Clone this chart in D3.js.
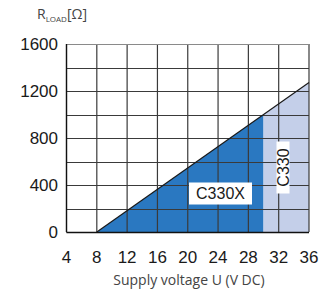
<!DOCTYPE html>
<html><head><meta charset="utf-8">
<script src="https://cdn.jsdelivr.net/npm/d3@7"></script>
<style>html,body{margin:0;padding:0;background:#fff;}svg{display:block;}</style>
</head><body>
<svg id="c" width="327" height="291"></svg>
<script>
const xTicks = [4, 8, 12, 16, 20, 24, 28, 32, 36];
const yTicks = [0, 400, 800, 1200, 1600];
const yGrid = [0, 200, 400, 600, 800, 1000, 1200, 1400, 1600];
const c330xU = [8, 30];
const c330xR = [0, 1000];
const c330U = [30, 36];
const c330R = [1000, 1273];
const lineU = [8, 36];
const lineR = [0, 1273];
const labels = ["C330X", "C330"];

const svg = d3.select("#c");
const x = d3.scaleLinear().domain([4, 36]).range([66.5, 309]);
const y = d3.scaleLinear().domain([0, 1600]).range([232, 44]);

const area = d3.area().x(d => x(d[0])).y0(y(0)).y1(d => y(d[1]));
svg.append("path").attr("d", area(c330xU.map((u, i) => [u, c330xR[i]]))).attr("fill", "#2a78c1");
svg.append("path").attr("d", area(c330U.map((u, i) => [u, c330R[i]]))).attr("fill", "#c4cfe9");

const g = svg.append("g");
xTicks.forEach(t => g.append("line").attr("x1", x(t)).attr("x2", x(t)).attr("y1", y(0)).attr("y2", y(1600))
  .attr("stroke", "#3a3a3a").attr("stroke-width", 1.2));
yGrid.forEach(t => g.append("line").attr("x1", x(4)).attr("x2", x(36)).attr("y1", Math.round(y(t)) + 0.5).attr("y2", Math.round(y(t)) + 0.5)
  .attr("stroke", t === 1600 ? "#8a8a8a" : "#3a3a3a").attr("stroke-width", 1.2));
// axis lines darker
g.append("line").attr("x1", x(4)).attr("x2", x(4)).attr("y1", y(0)).attr("y2", y(1600)).attr("stroke", "#111").attr("stroke-width", 1.3);
g.append("line").attr("x1", x(4)).attr("x2", x(36)).attr("y1", y(0) + 0.5).attr("y2", y(0) + 0.5).attr("stroke", "#111").attr("stroke-width", 1.3);

svg.append("path").attr("d", d3.line().x(d => x(d[0])).y(d => y(d[1]))(lineU.map((u, i) => [u, lineR[i]])))
  .attr("stroke", "#1a1a1a").attr("stroke-width", 1.2).attr("fill", "none");

// labels
function boxLabel(cx, cy, w, h, text, rot) {
  const gg = svg.append("g").attr("transform", `translate(${cx},${cy}) rotate(${rot})`);
  gg.append("rect").attr("x", -w / 2).attr("y", -h / 2).attr("width", w).attr("height", h).attr("fill", "#fff");
  gg.append("text").attr("x", 0).attr("y", 0).attr("dy", "0.36em").attr("text-anchor", "middle")
    .attr("font-family", "Liberation Sans, Arial, sans-serif").attr("font-size", 16).attr("fill", "#1a1a1a").text(text);
}
boxLabel(220.5, 193.5, 63, 22, labels[0], 0);
boxLabel(283, 167.5, 52, 13, labels[1], -90);

// tick labels
const tf = "Liberation Sans, Arial, sans-serif";
yTicks.forEach(t => svg.append("text").attr("x", 58).attr("y", y(t)).attr("dy", "0.36em").attr("text-anchor", "end")
  .attr("font-family", tf).attr("font-size", 17).attr("fill", "#1a1a1a").text(t));
xTicks.forEach(t => svg.append("text").attr("x", x(t)).attr("y", 263).attr("text-anchor", "middle")
  .attr("font-family", tf).attr("font-size", 17).attr("fill", "#1a1a1a").text(t));

svg.append("text").attr("x", 189).attr("y", 285).attr("text-anchor", "middle")
  .attr("font-family", "Open Sans, sans-serif").attr("font-size", 14).attr("fill", "#444").text("Supply voltage U (V DC)");

const tt = svg.append("text").attr("x", 37).attr("y", 19).attr("font-family", "Open Sans, sans-serif").attr("font-size", 14).attr("fill", "#444");
tt.append("tspan").text("R");
tt.append("tspan").attr("font-size", 8).attr("dy", 3).text("LOAD");
tt.append("tspan").attr("dy", -3).text("[Ω]");
</script>
</body></html>
